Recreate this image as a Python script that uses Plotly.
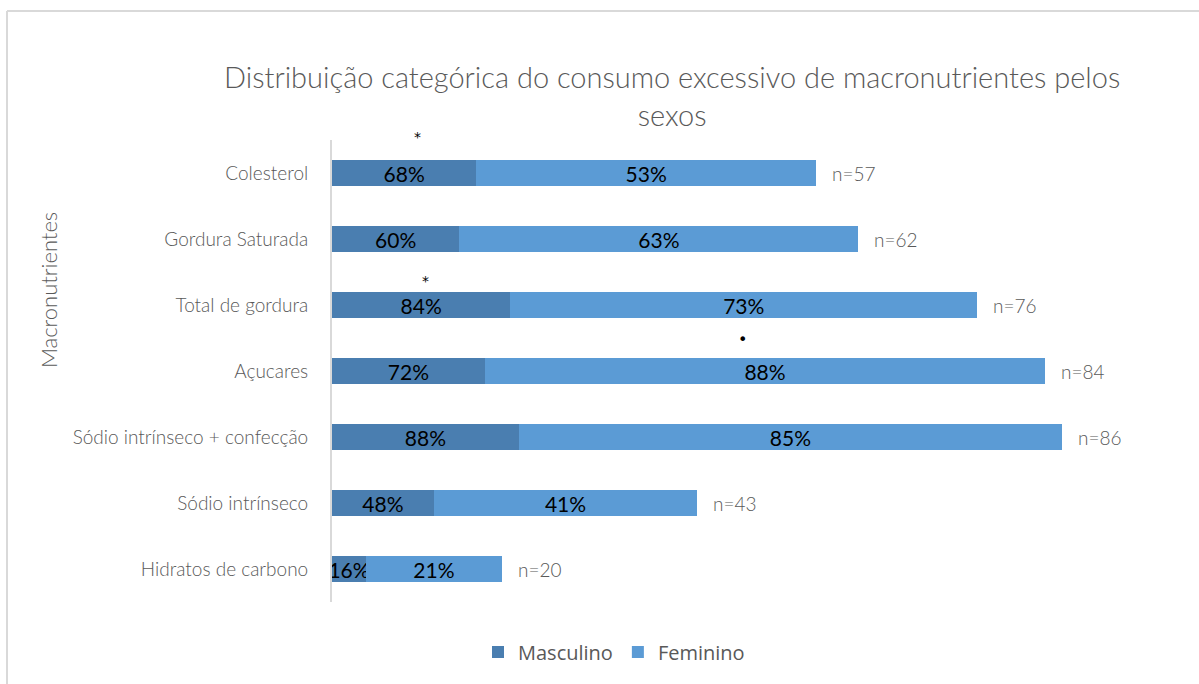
import plotly.graph_objects as go

# Categories (bottom to top as drawn)
categorias = [
    "Hidratos de carbono",
    "Sódio intrínseco",
    "Sódio intrínseco + confecção",
    "Açucares",
    "Total de gordura",
    "Gordura Saturada",
    "Colesterol",
]
# Counts per sex (bar lengths)
masculino_n = [4, 12, 22, 18, 21, 15, 17]
feminino_n = [16, 31, 64, 66, 55, 47, 40]
# Percent labels shown inside each segment
masculino_pct = ["16%", "48%", "88%", "72%", "84%", "60%", "68%"]
feminino_pct = ["21%", "41%", "85%", "88%", "73%", "63%", "53%"]
# Totals shown at the end of each bar
totais = [20, 43, 86, 84, 76, 62, 57]

# Significance marks: (category, x position in count units, symbol, lift in px)
marcas = [("Colesterol", 10.1, "*", 36), ("Total de gordura", 11.0, "*", 24), ("Açucares", 48.4, "•", 32)]

COR_M = "#4A7EB0"
COR_F = "#5B9BD5"
CINZA = "#595959"
FONTE_LEVE = "Lato"

# Plot-area geometry in pixels, used to place paper-referenced items
PX_L, PX_R, PX_T, PX_B = 332, 1181, 140, 602
W, H = PX_R - PX_L, PX_B - PX_T


def px_x(px):
    return (px - PX_L) / W


def px_y(py):
    return (PX_B - py) / H


fig = go.Figure()
for nome, vals, pct, cor in [("Masculino", masculino_n, masculino_pct, COR_M),
                             ("Feminino", feminino_n, feminino_pct, COR_F)]:
    fig.add_trace(go.Bar(
        y=categorias, x=vals, name=nome, orientation="h",
        marker=dict(color=cor, line=dict(width=0)),
        text=pct, textposition="inside", insidetextanchor="middle",
        textangle=0, constraintext="none",
        textfont=dict(family=FONTE_LEVE, size=21, color="#000000"),
        hoverinfo="skip",
    ))

anotacoes = []
for cat, tot in zip(categorias, totais):
    anotacoes.append(dict(
        x=tot, y=cat, xref="x", yref="y", text=f"n={tot}", showarrow=False,
        xanchor="left", xshift=14,
        font=dict(family=FONTE_LEVE, size=19, color=CINZA, weight=300),
    ))
for cat, xpos, simb, lift in marcas:
    anotacoes.append(dict(
        x=xpos, y=cat, xref="x", yref="y", text=simb, showarrow=False,
        yshift=lift, font=dict(family="DejaVu Sans", size=14 if simb == "*" else 16, color="#000000"),
    ))
# Vertical axis title
anotacoes.append(dict(
    x=px_x(48), y=px_y(290), xref="paper", yref="paper", text="Macronutrientes",
    showarrow=False, textangle=-90, xanchor="center", yanchor="middle",
    font=dict(family=FONTE_LEVE, size=22, color=CINZA, weight=300),
))
# Chart title
anotacoes.append(dict(
    x=px_x(672), y=px_y(95), xref="paper", yref="paper",
    text="Distribuição categórica do consumo excessivo de macronutrientes pelos<br>sexos",
    showarrow=False, xanchor="center", yanchor="middle",
    font=dict(family=FONTE_LEVE, size=29, color=CINZA, weight=300),
))

# Chart area frame (top and left edges)
formas = [
    dict(type="line", xref="paper", yref="paper", x0=px_x(7), x1=1.1, y0=px_y(11), y1=px_y(11),
         line=dict(color="#D9D9D9", width=2)),
    dict(type="line", xref="paper", yref="paper", x0=px_x(7), x1=px_x(7), y0=px_y(11), y1=-0.3,
         line=dict(color="#D9D9D9", width=2)),
]

fig.update_layout(
    width=1199, height=684,
    margin=dict(l=PX_L, r=1199 - PX_R, t=PX_T, b=684 - PX_B, autoexpand=False),
    paper_bgcolor="#FFFFFF", plot_bgcolor="#FFFFFF",
    barmode="stack", bargap=0.6,
    showlegend=True,
    legend=dict(orientation="h", x=px_x(614), y=px_y(652),
                xanchor="center", yanchor="middle",
                font=dict(family="Open Sans", size=20, color=CINZA),
                itemwidth=30, traceorder="normal"),
    uniformtext=dict(minsize=21, mode="show"),
    annotations=anotacoes,
    shapes=formas,
    xaxis=dict(range=[0, 100], visible=False, fixedrange=True),
    yaxis=dict(
        categoryorder="array", categoryarray=categorias, range=[-0.5, 6.5],
        showline=True, linecolor="#D9D9D9", linewidth=2,
        ticks="", showgrid=False, zeroline=False,
        ticklabelstandoff=18,
        tickfont=dict(family=FONTE_LEVE, size=19, color=CINZA, weight=300),
    ),
)

fig.write_html("out.html")
